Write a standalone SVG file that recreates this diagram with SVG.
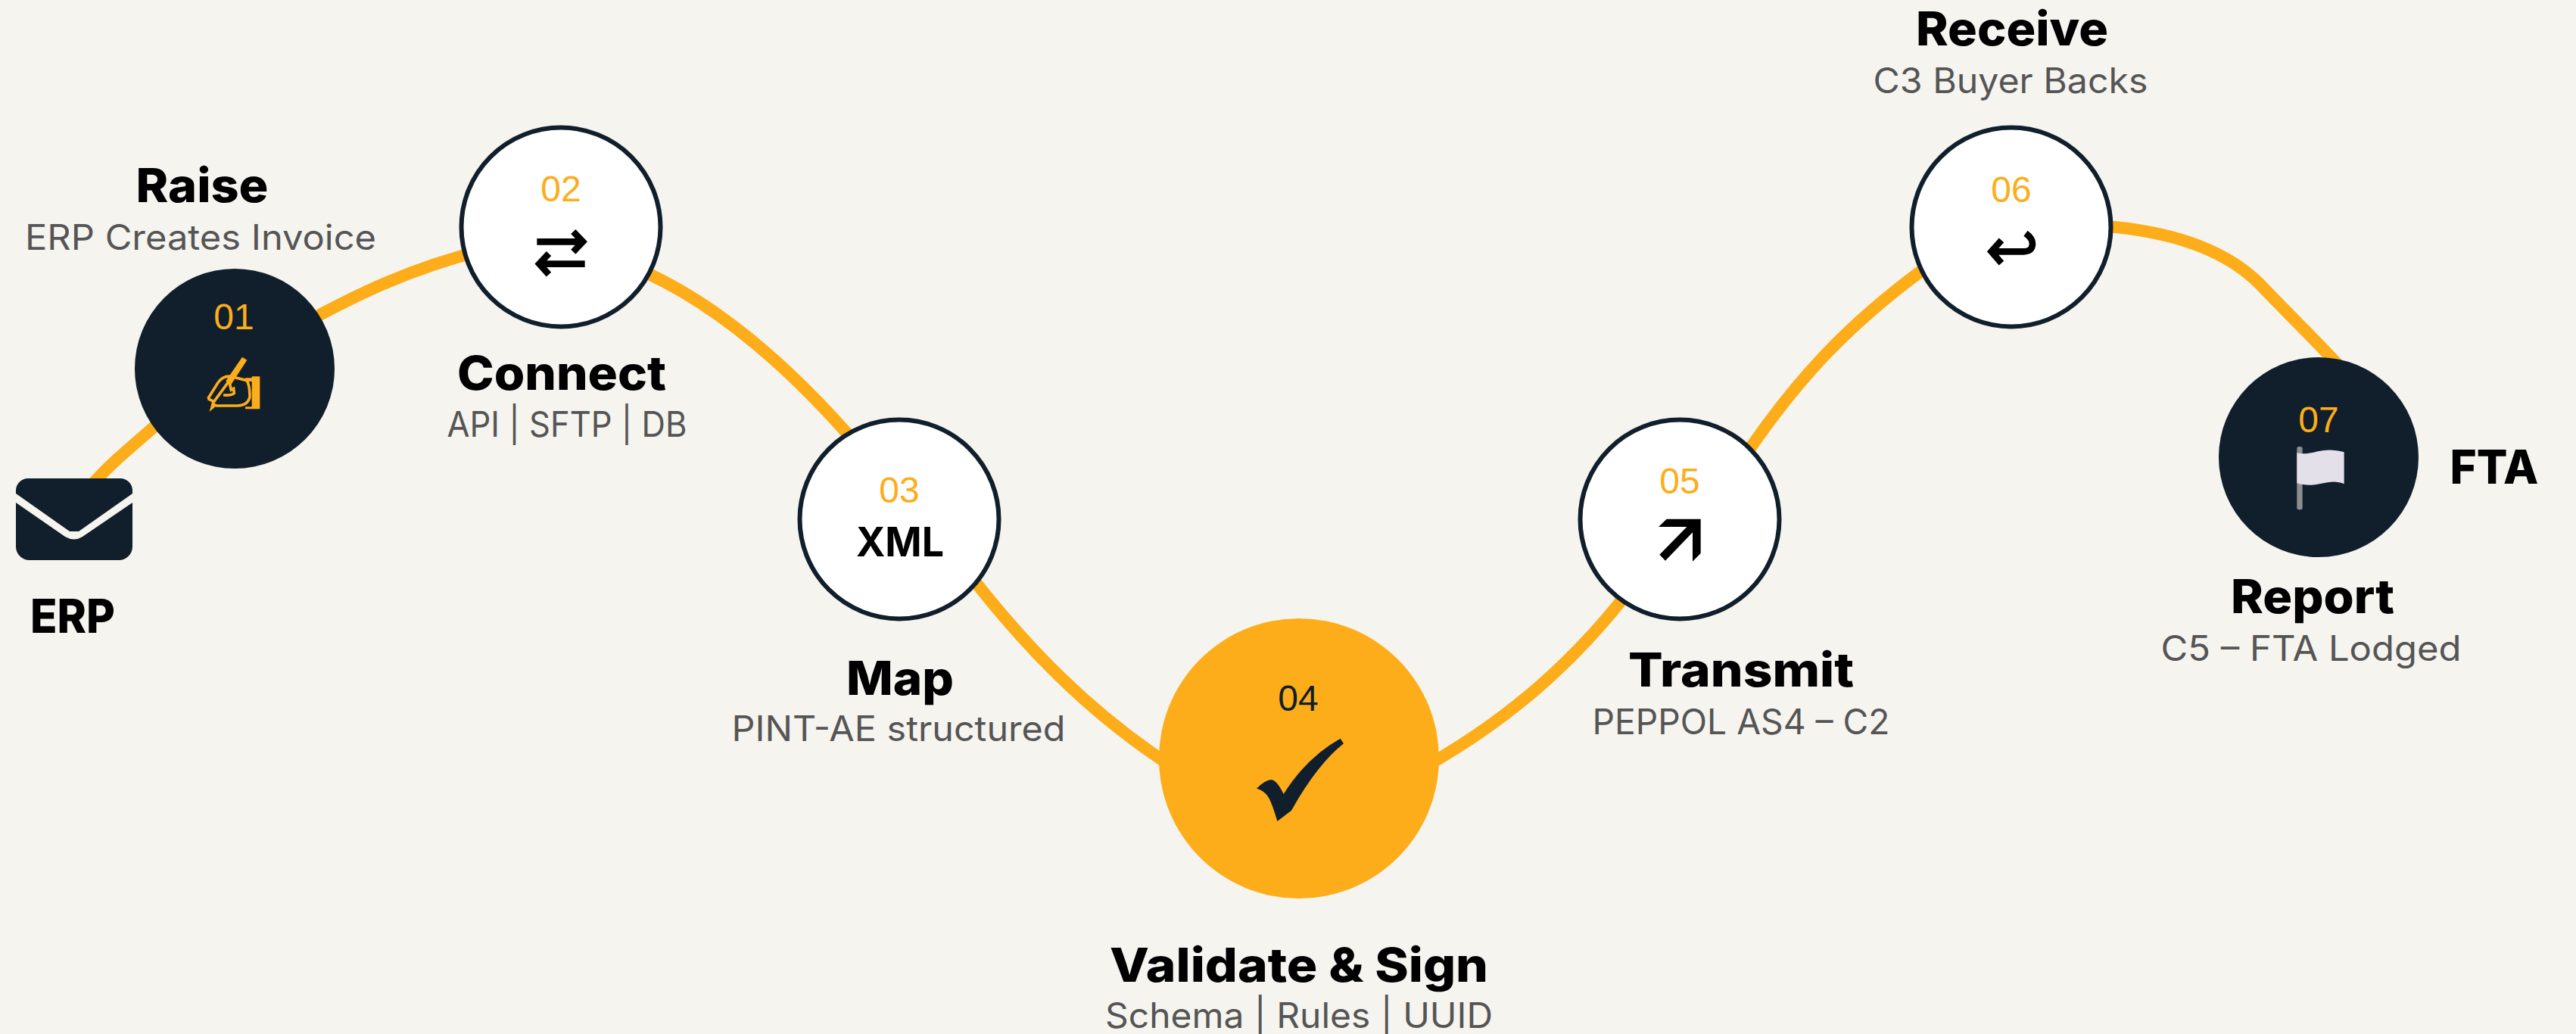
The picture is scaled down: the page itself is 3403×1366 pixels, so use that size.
<svg xmlns="http://www.w3.org/2000/svg" width="3403" height="1366" viewBox="0 0 3403 1366">
<style>
.t{font-family:"Inter","Liberation Sans",sans-serif;font-weight:800;font-size:62px;fill:#000;text-anchor:middle}
.s{font-family:"Inter","Liberation Sans",sans-serif;font-weight:400;font-size:46px;fill:#555;text-anchor:middle}
.n{font-family:"Liberation Sans",sans-serif;font-size:48px;fill:#fdad1a;text-anchor:middle}
.dark{fill:#101f2b}
.light{fill:#fff;stroke:#101f2b;stroke-width:6}
.ic{fill:none;stroke:#000;stroke-width:26;stroke-linejoin:miter}
</style>
<rect width="3403" height="1366" fill="#f5f4ef"/>
<g id="connectors" fill="none" stroke="#fdad1a" stroke-width="16">
<path d="M120 642C150 608 180 585 215 554"/>
<path d="M400 428C470 390 540 355 640 330"/>
<path d="M830 350C930 390 1030 470 1130 585"/>
<path d="M1270 745C1350 850 1440 945 1560 1020"/>
<path d="M1870 1020C1970 965 2070 890 2160 770"/>
<path d="M2290 625C2365 510 2440 425 2570 335"/>
<path d="M2770 298C2880 305 2945 335 2985 375C3020 412 3060 450 3110 505"/>
</g>
<g id="node-erp">
<path class="dark" d="M37 632H159A16 16 0 0 1 175 648V652L104 702H92L21 652V648A16 16 0 0 1 37 632ZM21 664L86 709Q98 716 109 709L175 664V722A18 18 0 0 1 157 740H39A18 18 0 0 1 21 722Z"/>
<text class="t" x="96" y="836" textLength="112" lengthAdjust="spacingAndGlyphs">ERP</text>
</g>
<g id="node-01">
<circle class="dark" cx="310" cy="487" r="132"/>
<text class="n" x="309" y="435">01</text>
<g transform="translate(230 460) scale(.3333)">
<path d="M270 35L289 47L222 150L205 130Z" fill="#fdad1a"/>
<g fill="none" stroke="#fdad1a" stroke-width="11">
<path d="M134 200L175 135Q195 108 225 112L288 128Q300 145 300 195Q290 228 250 228H165"/>
<path d="M134 200L158 212L218 130L226 165L236 160L238 178Q230 188 195 186"/>
</g>
<path d="M140 252L150 212L172 225Z" fill="#fdad1a"/>
<path d="M282 118H308V112H340V241H282V232H308V132H282Z" fill="#fdad1a"/>
</g>
<text class="t" x="267" y="267" textLength="175" lengthAdjust="spacingAndGlyphs">Raise</text>
<text class="s" x="265" y="330" textLength="464" lengthAdjust="spacingAndGlyphs">ERP Creates Invoice</text>
</g>
<g id="node-02">
<circle class="light" cx="741" cy="300" r="131.5"/>
<text class="n" x="741" y="266">02</text>
<g transform="translate(680 280) scale(.3333)">
<path class="ic" d="M88 118H260M232 78L270 118L232 158M278 206H108M135 165L97 206L135 248"/>
</g>
<text class="t" x="742" y="515" textLength="276" lengthAdjust="spacingAndGlyphs">Connect</text>
<text class="s" x="749" y="577" textLength="317" lengthAdjust="spacingAndGlyphs">API | SFTP | DB</text>
</g>
<g id="node-03">
<circle class="light" cx="1188" cy="686" r="131.5"/>
<text class="n" x="1188" y="664">03</text>
<text x="1189" y="735" font-family="Inter,'Liberation Sans',sans-serif" font-weight="700" font-size="54" text-anchor="middle" textLength="116" lengthAdjust="spacingAndGlyphs">XML</text>
<text class="t" x="1189" y="918" textLength="142" lengthAdjust="spacingAndGlyphs">Map</text>
<text class="s" x="1187" y="979" textLength="441" lengthAdjust="spacingAndGlyphs">PINT-AE structured</text>
</g>
<g id="node-04">
<circle cx="1716" cy="1002" r="185" fill="#fdad1a"/>
<text class="n" style="fill:#101f2b" x="1715" y="939">04</text>
<g transform="translate(1600 860) scale(.3333)">
<path class="dark" d="M180 545Q215 510 240 510Q262 515 287 567Q380 420 512 347L525 367Q420 450 318 632L262 675Q235 580 215 565Q200 550 180 545Z"/>
</g>
<text class="t" x="1716" y="1297" textLength="500" lengthAdjust="spacingAndGlyphs">Validate &amp; Sign</text>
<text class="s" x="1716" y="1358" textLength="512" lengthAdjust="spacingAndGlyphs">Schema | Rules | UUID</text>
</g>
<g id="node-05">
<circle class="light" cx="2219" cy="686" r="131.5"/>
<text class="n" x="2219" y="652">05</text>
<g transform="translate(2160 660) scale(.3333)">
<path d="M125 77H260V213L228 245V130L120 242L97 218L205 108H93Z"/>
</g>
<text class="t" x="2300" y="907" textLength="298" lengthAdjust="spacingAndGlyphs">Transmit</text>
<text class="s" x="2300" y="970" textLength="393" lengthAdjust="spacingAndGlyphs">PEPPOL AS4 – C2</text>
</g>
<g id="node-06">
<circle class="light" cx="2657" cy="300" r="131.5"/>
<text class="n" x="2657" y="267">06</text>
<g transform="translate(2600 280) scale(.3333)">
<path class="ic" d="M100 157H220Q255 157 255 125Q255 105 228 85M132 112L92 157L132 203"/>
</g>
<text class="t" x="2658" y="60" textLength="254" lengthAdjust="spacingAndGlyphs">Receive</text>
<text class="s" x="2656" y="123" textLength="363" lengthAdjust="spacingAndGlyphs">C3 Buyer Backs</text>
</g>
<g id="node-07">
<circle class="dark" cx="3063" cy="604" r="132"/>
<text class="n" x="3063" y="571">07</text>
<g transform="translate(2920 460) scale(.3333)">
<rect x="343" y="390" width="22" height="250" rx="8" fill="#8d8d8d"/>
<path d="M343 415C400 430 440 385 530 412V538C470 510 420 560 343 535Z" fill="#e4e0ea"/>
</g>
<text class="t" x="3295" y="639" textLength="117" lengthAdjust="spacingAndGlyphs">FTA</text>
<text class="t" x="3055" y="810" textLength="216" lengthAdjust="spacingAndGlyphs">Report</text>
<text class="s" x="3053" y="873" textLength="397" lengthAdjust="spacingAndGlyphs">C5 – FTA Lodged</text>
</g>
</svg>
